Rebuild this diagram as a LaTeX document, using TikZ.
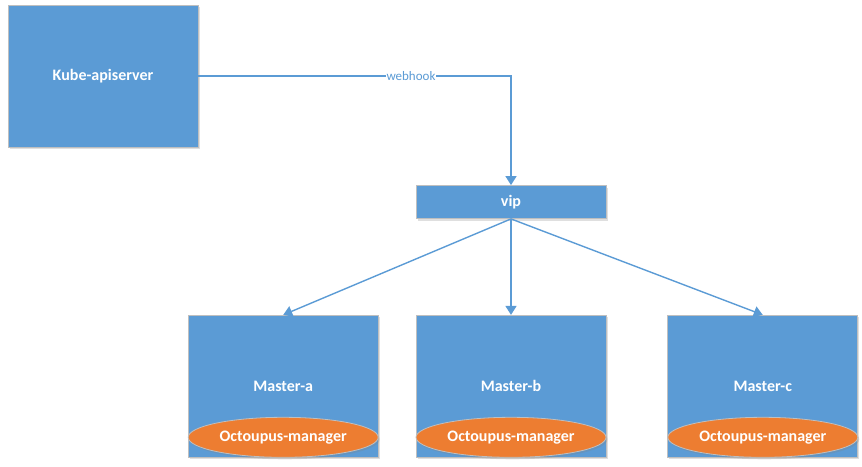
\documentclass[tikz,border=0pt]{standalone}
\usepackage{fontspec}
\setmainfont{Carlito}
\usetikzlibrary{arrows.meta,shapes.geometric,positioning,shadows}
\definecolor{boxblue}{HTML}{5B9BD5}
\definecolor{mgrorange}{HTML}{ED7D31}
\tikzset{
  basic/.style   = {draw=black!25, line width=0.8pt, fill=boxblue, text=white,
                    font=\fontsize{16}{19}\selectfont\bfseries, inner sep=0pt,
                    drop shadow={shadow xshift=1.5pt, shadow yshift=-2pt, opacity=0.25}},
  server/.style  = {basic, rectangle, minimum width=190pt, minimum height=142pt},
  vipbox/.style  = {basic, rectangle, minimum width=190pt, minimum height=33pt},
  master/.style  = {server},
  manager/.style = {basic, ellipse, fill=mgrorange, minimum width=190pt,
                    minimum height=40pt, drop shadow={opacity=0}},
  link/.style    = {draw=boxblue, line width=1.4pt,
                    -{Triangle[width=11pt,length=9pt]}}
}

\begin{document}
\begin{tikzpicture}[x=1pt, y=-1pt]
\useasboundingbox (0,0) rectangle (862,466);

% the api server and the virtual ip
\node[server] (api) at (103,76) {Kube-apiserver};
\node[vipbox] (vip) at (511,202) {vip};

% the three masters, placed relative to each other
\node[master, below=96pt of vip] (mb) {Master-b};
\node[master, left=37pt of mb] (ma) {Master-a};
\node[master, right=61pt of mb] (mc) {Master-c};

% one manager at the foot of every master
\foreach \m in {a,b,c}
  \node[manager, anchor=south] (oc\m) at (m\m.south) {Octoupus-manager};

% webhook from the api server to the vip
\draw[link] (api.east) -| node[pos=0.34, fill=white, inner sep=1pt,
  text=boxblue, font=\fontsize{13}{15}\selectfont] {webhook} (vip.north);

% lines from the vip to every master
\foreach \m in {a,b,c}
  \draw[link] (vip.south) -- (m\m.north);
\end{tikzpicture}
\end{document}
